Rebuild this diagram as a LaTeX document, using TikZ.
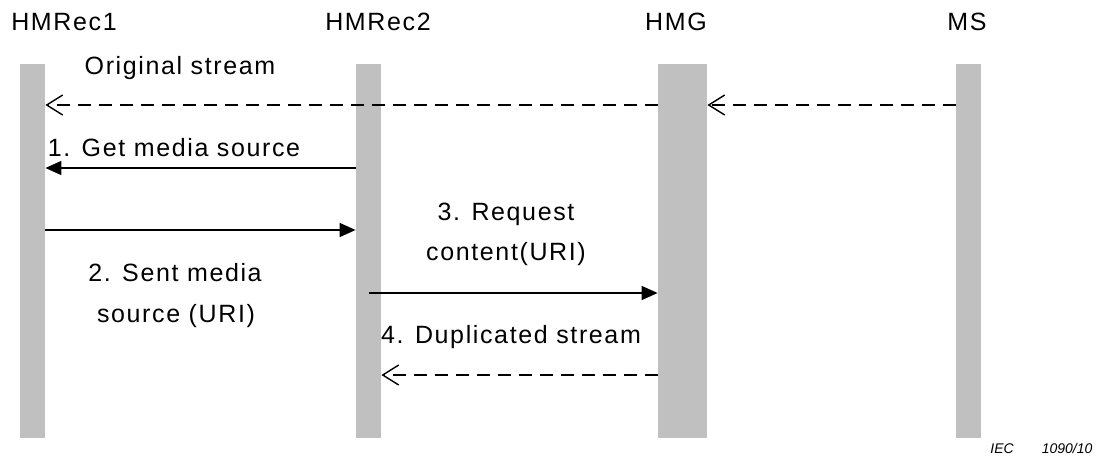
\documentclass[tikz,border=0pt]{standalone}
\usepackage{fontspec}
\setmainfont{Liberation Sans}[LetterSpace=6.5]
\newfontfamily\iecfont{Liberation Sans}
\usetikzlibrary{positioning, arrows.meta}
\definecolor{bargray}{RGB}{192,192,192}

\begin{document}
\begin{tikzpicture}
	[x=0.5pt, y=-0.5pt, on grid, node distance=168pt,
	 font=\fontsize{12.5}{14}\selectfont,
	 life/.style={rectangle, fill=bargray, inner sep=0pt, minimum width=12.5pt, minimum height=187pt},
	 msg/.style={line width=0.7pt, -{Triangle[length=8pt,width=7pt]}},
	 stream/.style={line width=0.7pt, dash pattern=on 6.5pt off 4pt, -{Straight Barb[length=8pt,width=10pt]}},
	 lbl/.style={anchor=base, inner sep=0pt}]
   \useasboundingbox (0,0) rectangle (1101,455);
   % lifelines
   \node[life] (rec1) at (32.5,251) {};
   \node[life] (rec2) [right=of rec1] {};
   \node[life, minimum width=24.5pt] (hmg) [right=157pt of rec2] {};
   \node[life] (ms) [right=143pt of hmg] {};

   \node[lbl] (t_rec1) at (64,30) {HMRec1};
   \node[lbl] (t_rec2) at (378,30) {HMRec2};
   \node[lbl] (t_hmg) at (676,30) {HMG};
   \node[lbl] (t_ms) at (967,30) {MS};

   % message rows
   \coordinate (m_0) at (0,105);
   \coordinate (m_1) at (0,168);
   \coordinate (m_2) at (0,230);
   \coordinate (m_3) at (0,293);
   \coordinate (m_4) at (0,375);

   \draw[stream] (hmg.west |- m_0) -- (rec1.east |- m_0);
   \draw[stream] (ms.west |- m_0) -- (hmg.east |- m_0);
   \draw[msg] (rec2.west |- m_1) -- (rec1.east |- m_1);
   \draw[msg] (rec1.east |- m_2) -- (rec2.west |- m_2);
   \draw[msg] (rec2.center |- m_3) -- (hmg.west |- m_3);
   \draw[stream] (hmg.west |- m_4) -- (rec2.east |- m_4);

   \node[lbl] (l_0) at (180,74) {Original stream};
   \node[lbl] (l_1) at (174,156) {1. Get media source};
   \node[lbl] (l_2a) at (175,281) {2. Sent media};
   \node[lbl] (l_2b) at (176,322) {source (URI)};
   \node[lbl] (l_3a) at (506,220) {3. Request};
   \node[lbl] (l_3b) at (506,260) {content(URI)};
   \node[lbl] (l_4) at (511,343) {4. Duplicated stream};

   \node[anchor=base west, inner sep=0pt, font=\fontsize{7}{8}\iecfont\itshape] (iec) at (990,453) {IEC\hspace{14pt}1090/10};
\end{tikzpicture}
\end{document}
